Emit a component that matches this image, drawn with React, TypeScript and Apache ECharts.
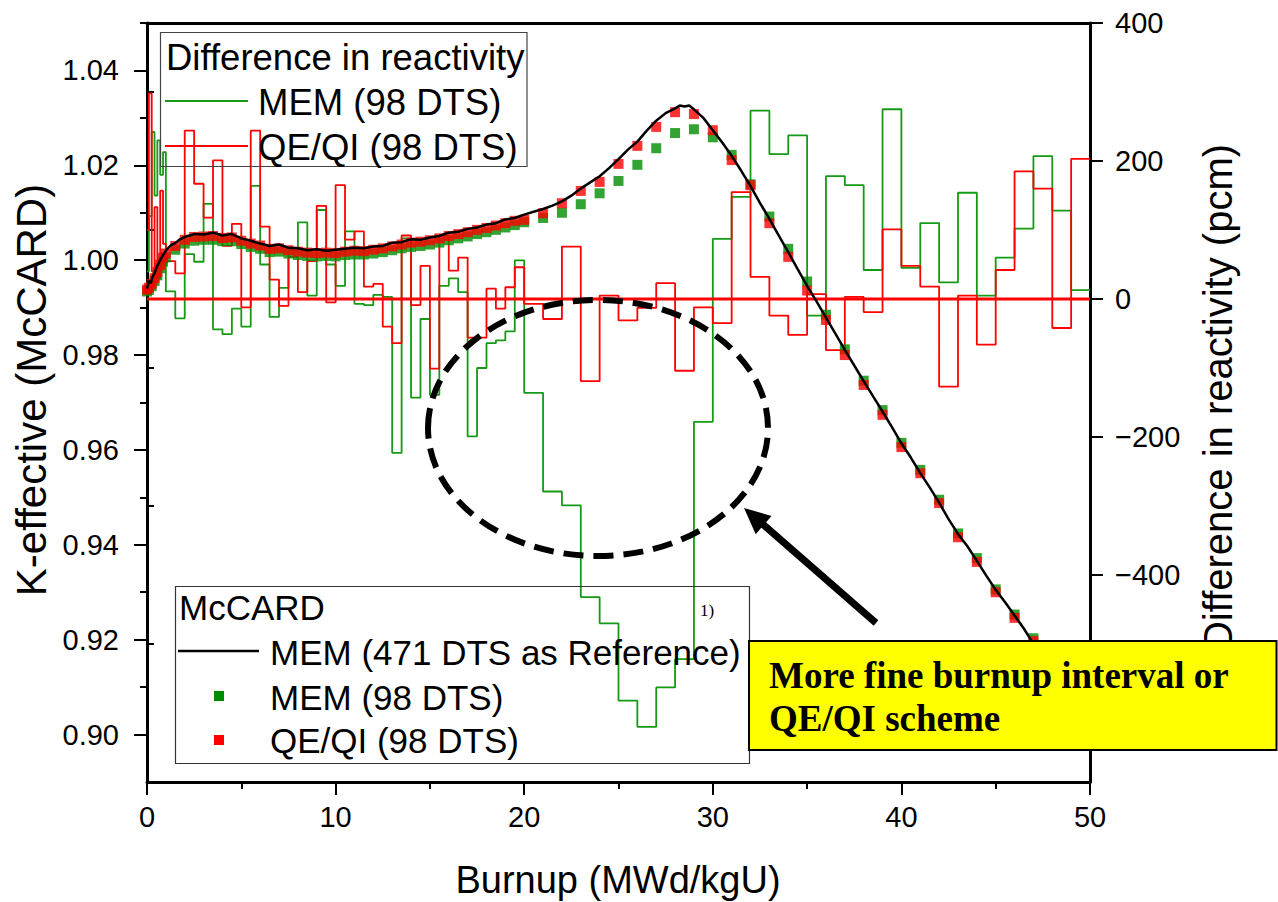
import React, { useEffect, useRef } from 'react';
import * as echarts from 'echarts';

const FONT = '"Liberation Sans", Arial, Helvetica, sans-serif';
const SERIF = '"Liberation Serif", "Times New Roman", serif';

const BURNUP_MIN = 0;
const BURNUP_MAX = 50;

// Left edges of the 98-DTS burnup steps (MWd/kgU)
const stepEdges = [
  0, 0.1, 0.25, 0.4, 0.55, 0.7, 0.85, 1.0,
  1.5, 2.0, 2.5, 3.0, 3.5, 4.0, 4.5, 5.0, 5.5, 6.0, 6.5, 7.0, 7.5, 8.0, 8.5, 9.0, 9.5,
  10.0, 10.5, 11.0, 11.5, 12.0, 12.5, 13.0, 13.5, 14.0, 14.5, 15.0, 15.5, 16.0, 16.5,
  17.0, 17.5, 18.0, 18.5, 19.0, 19.5,
  20, 21, 22, 23, 24, 25, 26, 27, 28, 29, 30, 31, 32, 33, 34, 35, 36, 37, 38, 39,
  40, 41, 42, 43, 44, 45, 46, 47, 48, 49,
];

// Difference in reactivity (pcm) - MEM (98 DTS)
const memDiff = [
  40, 120, 242, 150, 230, 180, 213, 11,
  -28, 65, 54, 138, -44, -51, -14, -40, 164, 50, -26, 16, 70, 111, 5, 129, 50,
  19, 98, -7, -9, 6, 3, -223, 88, -143, -29, -139, 19, 30, 10,
  -199, -100, -64, -60, -47, 56,
  -136, -279, -299, -432, -470, -582, -620, -563, -522, -178, 87, 148, 273, 210, 237, -24, 178, 165, 42, 275,
  45, 110, 24, 154, 5, 60, 102, 207, 128, 13,
];

// Difference in reactivity (pcm) - QE/QI (98 DTS)
const qeDiff = [
  100, 298, 40, 133, 30, 157, 80, 55,
  37, 244, 167, 118, 201, 77, 109, -12, 244, 105, 28, -10, 61, 10, 55, 135, -5,
  165, 86, 98, 18, 22, -40, -64, 92, -9, 48, -101, 92, 41, 60,
  -56, -56, 15, -14, 17, 46,
  -7, -29, 76, -119, 5, -31, -13, 23, -104, -12, -35, 155, 32, -24, -52, 7, -74, 3, -19, 101,
  48, 18, -127, 5, -66, 42, 185, 160, -42, 203,
];

// Burnup points of the 98-DTS k-effective results
const pointBurnup = [
  0, 0.1, 0.25, 0.4, 0.55, 0.7, 0.85, 1.0,
  1.5, 2.0, 2.5, 3.0, 3.5, 4.0, 4.5, 5.0, 5.5, 6.0, 6.5, 7.0, 7.5, 8.0, 8.5, 9.0, 9.5,
  10.0, 10.5, 11.0, 11.5, 12.0, 12.5, 13.0, 13.5, 14.0, 14.5, 15.0, 15.5, 16.0, 16.5,
  17.0, 17.5, 18.0, 18.5, 19.0, 19.5,
  20, 21, 22, 23, 24, 25, 26, 27, 28, 29, 30, 31, 32, 33, 34, 35, 36, 37, 38, 39,
  40, 41, 42, 43, 44, 45, 46, 47, 48, 49, 50,
];

const memKeff = [
  0.9934, 0.9937, 0.9945, 0.9956, 0.9968, 0.9983, 0.9997, 1.0006,
  1.0022, 1.0035, 1.0041, 1.0043, 1.0043, 1.0040, 1.0040, 1.0034, 1.0028, 1.0024, 1.0017, 1.0018, 1.0014, 1.0011, 1.0009, 1.0008, 1.0009,
  1.0008, 1.0011, 1.0012, 1.0012, 1.0014, 1.0017, 1.0021, 1.0025, 1.0028, 1.0030, 1.0033, 1.0037, 1.0042, 1.0046,
  1.0050, 1.0055, 1.0059, 1.0064, 1.0069, 1.0074,
  1.0080, 1.0089, 1.0100, 1.0118, 1.0141, 1.0167, 1.0201, 1.0236, 1.0268, 1.0276, 1.0259, 1.0222, 1.0160, 1.0092, 1.0024, 0.9955, 0.9885, 0.9812, 0.9746, 0.9684,
  0.9615, 0.9558, 0.9495, 0.9424, 0.9372, 0.9306, 0.9253, 0.9203, 0.9147, 0.9088, 0.9027,
];

const qeKeff = [
  0.9938, 0.9942, 0.9950, 0.9962, 0.9975, 0.9990, 1.0005, 1.0014,
  1.0030, 1.0043, 1.0049, 1.0050, 1.0051, 1.0047, 1.0048, 1.0041, 1.0035, 1.0031, 1.0024, 1.0025, 1.0021, 1.0018, 1.0016, 1.0015, 1.0016,
  1.0015, 1.0018, 1.0020, 1.0019, 1.0022, 1.0025, 1.0029, 1.0033, 1.0037, 1.0039, 1.0042, 1.0046, 1.0051, 1.0055,
  1.0059, 1.0064, 1.0068, 1.0073, 1.0078, 1.0083,
  1.0085, 1.0099, 1.0120, 1.0146, 1.0165, 1.0203, 1.0241, 1.0281, 1.0312, 1.0308, 1.0274, 1.0211, 1.0158, 1.0078, 1.0007, 0.9936, 0.9874, 0.9800, 0.9737, 0.9674,
  0.9606, 0.9551, 0.9488, 0.9416, 0.9364, 0.9300, 0.9246, 0.9197, 0.9140, 0.9080, 0.9020,
];

// Reference: MEM (471 DTS)
const refBurnup = [
  0, 0.1, 0.2, 0.3, 0.4, 0.5, 0.75, 1.0, 1.25, 1.5, 1.75, 2.0, 2.5, 3.0, 3.5, 4.0, 4.5, 5.0, 5.5, 6.0,
  6.5, 7.0, 7.5, 8.0, 8.5, 9.0, 9.5, 10.0, 10.5, 11.0, 11.5, 12.0, 12.5, 13.0, 13.5, 14.0, 14.5, 15.0,
  15.5, 16.0, 16.5, 17.0, 17.5, 18.0, 18.5, 19.0, 19.5, 20.0, 20.5, 21.0, 21.5, 22.0, 22.5, 23.0, 23.5,
  24.0, 24.5, 25.0, 25.5, 26.0, 26.5, 27.0, 27.5, 28.0, 28.25, 28.5, 28.75, 29.0, 29.5, 30.0, 30.5, 31.0,
  31.5, 32.0, 32.5, 33.0, 33.5, 34.0, 34.5, 35.0, 35.5, 36.0, 36.5, 37.0, 37.5, 38.0, 38.5, 39.0, 39.5,
  40.0, 40.5, 41.0, 41.5, 42.0, 42.5, 43.0, 43.5, 44.0, 44.5, 45.0, 45.5, 46.0, 46.5, 47.0, 47.5, 48.0,
  48.5, 49.0, 49.5, 50.0,
];
const refKeff = [
  0.9940, 0.9957, 0.9951, 0.9966, 0.9972, 0.9984, 1.0004, 1.0020, 1.0031, 1.0036, 1.0044, 1.0049, 1.0055, 1.0054, 1.0058, 1.0052, 1.0055, 1.0046, 1.0041, 1.0035,
  1.0030, 1.0033, 1.0026, 1.0025, 1.0021, 1.0023, 1.0020, 1.0022, 1.0024, 1.0026, 1.0025, 1.0029, 1.0030, 1.0037, 1.0038, 1.0044, 1.0043, 1.0048,
  1.0051, 1.0058, 1.0060, 1.0066, 1.0069, 1.0075, 1.0078, 1.0086, 1.0089, 1.0096, 1.0102, 1.0108, 1.0115, 1.0124, 1.0136, 1.0151, 1.0164,
  1.0177, 1.0194, 1.0213, 1.0233, 1.0250, 1.0273, 1.0294, 1.0310, 1.0320, 1.0326, 1.0324, 1.0326, 1.0318, 1.0300, 1.0274, 1.0248, 1.0220,
  1.0189, 1.0156, 1.0121, 1.0087, 1.0052, 1.0017, 0.9981, 0.9946, 0.9913, 0.9879, 0.9845, 0.9811, 0.9778, 0.9745, 0.9713, 0.9681, 0.9648,
  0.9614, 0.9584, 0.9551, 0.9521, 0.9489, 0.9454, 0.9423, 0.9397, 0.9366, 0.9335, 0.9305, 0.9279, 0.9251, 0.9223, 0.9191, 0.9163, 0.9134,
  0.9106, 0.9077, 0.9049, 0.9020,
];

const leftMajorTicks = [0.9, 0.92, 0.94, 0.96, 0.98, 1.0, 1.02, 1.04];
const leftMinorTicks = [0.91, 0.93, 0.95, 0.97, 0.99, 1.01, 1.03, 1.05];
const rightMajorTicks = [-600, -400, -200, 0, 200, 400];
const rightMinorTicks = [-700, -500, -300, -100, 100, 300];

const GREEN_LINE = '#159a15';
const GREEN_PT = '#008c00';
const RED = '#ff0000';

function stepSeriesData(edges: number[], vals: number[]) {
  const d = edges.map((x, i) => [x, vals[i]]);
  d.push([BURNUP_MAX, vals[vals.length - 1]]);
  return d;
}

function arrowHead(tipX: number, tipY: number, tailX: number, tailY: number, len: number, half: number) {
  const dx = tailX - tipX;
  const dy = tailY - tipY;
  const L = Math.sqrt(dx * dx + dy * dy);
  const ux = dx / L;
  const uy = dy / L;
  const bx = tipX + ux * len;
  const by = tipY + uy * len;
  return [
    [tipX, tipY],
    [bx - uy * half, by + ux * half],
    [bx + uy * half, by - ux * half],
  ];
}

function buildOption() {
  const axisLineStyle = { color: '#000', width: 3 };
  const tickStyle = { color: '#000', width: 2 };
  const labelBase = { color: '#000', fontSize: 29, fontFamily: FONT };
  const txt = (text: string, x: number, y: number, size: number, extra: any = {}) => ({
    type: 'text',
    x,
    y,
    z: 100,
    style: { text, fontSize: size, fontFamily: FONT, fill: '#000', align: 'left', verticalAlign: 'middle', ...extra },
  });

  const tipX = 744;
  const tipY = 508;
  const tailX = 876;
  const tailY = 623;

  return {
    animation: false,
    backgroundColor: '#fff',
    grid: { left: 147, right: 188, top: 23, bottom: 120, containLabel: false },
    xAxis: [
      {
        type: 'value',
        min: BURNUP_MIN,
        max: BURNUP_MAX,
        interval: 10,
        position: 'bottom',
        axisLine: { show: true, onZero: false, lineStyle: axisLineStyle },
        axisTick: { show: true, length: 13, lineStyle: tickStyle },
        minorTick: { show: true, splitNumber: 2, length: 7, lineStyle: tickStyle },
        axisLabel: { ...labelBase, margin: 20 },
        splitLine: { show: false },
      },
      {
        type: 'value',
        min: BURNUP_MIN,
        max: BURNUP_MAX,
        position: 'top',
        axisLine: { show: true, onZero: false, lineStyle: axisLineStyle },
        axisTick: { show: false },
        axisLabel: { show: false },
        splitLine: { show: false },
      },
    ],
    yAxis: [
      {
        type: 'value',
        min: 0.89,
        max: 1.05,
        position: 'left',
        axisLine: { show: true, onZero: false, lineStyle: axisLineStyle },
        axisTick: { show: true, length: 13, lineStyle: tickStyle, customValues: leftMajorTicks },
        axisLabel: { ...labelBase, margin: 28, customValues: leftMajorTicks, formatter: (v: number) => v.toFixed(2) },
        splitLine: { show: false },
      },
      {
        type: 'value',
        min: -700,
        max: 400,
        position: 'right',
        axisLine: { show: true, onZero: false, lineStyle: axisLineStyle },
        axisTick: { show: true, length: 13, lineStyle: tickStyle, customValues: rightMajorTicks },
        axisLabel: {
          ...labelBase,
          margin: 25,
          customValues: rightMajorTicks,
          formatter: (v: number) => (v < 0 ? '\u2212' + Math.abs(v) : String(v)),
        },
        splitLine: { show: false },
      },
      {
        type: 'value',
        min: 0.89,
        max: 1.05,
        position: 'left',
        axisLine: { show: false },
        axisTick: { show: true, length: 7, lineStyle: tickStyle, customValues: leftMinorTicks },
        axisLabel: { show: false },
        splitLine: { show: false },
      },
      {
        type: 'value',
        min: -700,
        max: 400,
        position: 'right',
        axisLine: { show: false },
        axisTick: { show: true, length: 7, lineStyle: tickStyle, customValues: rightMinorTicks },
        axisLabel: { show: false },
        splitLine: { show: false },
      },
    ],
    series: [
      {
        name: 'MEM (98 DTS) difference',
        type: 'line',
        yAxisIndex: 1,
        step: 'end',
        showSymbol: false,
        data: stepSeriesData(stepEdges, memDiff),
        lineStyle: { color: GREEN_LINE, width: 1.8 },
        z: 2,
      },
      {
        name: 'QE/QI (98 DTS) difference',
        type: 'line',
        yAxisIndex: 1,
        step: 'end',
        showSymbol: false,
        data: stepSeriesData(stepEdges, qeDiff),
        lineStyle: { color: RED, width: 1.8 },
        z: 3,
      },
      {
        name: 'zero',
        type: 'line',
        yAxisIndex: 1,
        showSymbol: false,
        data: [
          [BURNUP_MIN, 0],
          [BURNUP_MAX, 0],
        ],
        lineStyle: { color: RED, width: 3 },
        z: 4,
      },
      {
        name: 'MEM (98 DTS)',
        type: 'scatter',
        yAxisIndex: 0,
        symbol: 'rect',
        symbolSize: 10,
        data: pointBurnup.map((x, i) => [x, memKeff[i]]),
        itemStyle: { color: GREEN_PT },
        z: 5,
      },
      {
        name: 'QE/QI (98 DTS)',
        type: 'scatter',
        yAxisIndex: 0,
        symbol: 'rect',
        symbolSize: 10,
        data: pointBurnup.map((x, i) => [x, qeKeff[i]]),
        itemStyle: { color: RED },
        z: 6,
      },
      {
        name: 'MEM (471 DTS as Reference)',
        type: 'line',
        yAxisIndex: 0,
        showSymbol: false,
        data: refBurnup.map((x, i) => [x, refKeff[i]]),
        lineStyle: { color: '#000', width: 2.5 },
        z: 7,
      },
    ],
    graphic: [
      // axis titles
      {
        type: 'text',
        x: 31,
        y: 390,
        rotation: Math.PI / 2,
        z: 100,
        style: { text: 'K-effective (McCARD)', fontSize: 42, fontFamily: FONT, fill: '#000', align: 'center', verticalAlign: 'middle' },
      },
      {
        type: 'text',
        x: 1218,
        y: 397,
        rotation: Math.PI / 2,
        z: 100,
        style: { text: 'Difference in reactivity (pcm)', fontSize: 40, fontFamily: FONT, fill: '#000', align: 'center', verticalAlign: 'middle' },
      },
      txt('Burnup (MWd/kgU)', 618, 880, 38, { align: 'center' }),
      // top legend
      { type: 'rect', z: 100, shape: { x: 160.5, y: 32.5, width: 366.5, height: 134 }, style: { fill: 'none', stroke: '#444', lineWidth: 1.2 } },
      txt('Difference in reactivity', 166, 57, 36.5),
      { type: 'line', z: 100, shape: { x1: 165, y1: 101, x2: 248, y2: 101 }, style: { stroke: GREEN_LINE, lineWidth: 1.8 } },
      txt('MEM (98 DTS)', 258, 102, 36.5),
      { type: 'line', z: 100, shape: { x1: 165, y1: 146, x2: 248, y2: 146 }, style: { stroke: RED, lineWidth: 1.8 } },
      txt('QE/QI (98 DTS)', 258, 147, 36.5),
      // bottom legend
      { type: 'rect', z: 100, shape: { x: 175.5, y: 586.5, width: 574, height: 177 }, style: { fill: 'none', stroke: '#333', lineWidth: 1.2 } },
      txt('McCARD', 179, 607, 35),
      { type: 'line', z: 100, shape: { x1: 178, y1: 651, x2: 259, y2: 651 }, style: { stroke: '#000', lineWidth: 2.5 } },
      txt('MEM (471 DTS as Reference)', 270, 652, 35),
      { type: 'rect', z: 100, shape: { x: 214, y: 691, width: 10, height: 10 }, style: { fill: GREEN_PT } },
      txt('MEM (98 DTS)', 270, 697, 35),
      { type: 'rect', z: 100, shape: { x: 214, y: 735, width: 10, height: 10 }, style: { fill: RED } },
      txt('QE/QI (98 DTS)', 270, 740, 35),
      {
        type: 'text',
        x: 700,
        y: 610,
        z: 100,
        style: { text: '1)', fontSize: 17, fontFamily: SERIF, fill: '#000', align: 'left', verticalAlign: 'middle' },
      },
      // dashed ellipse
      {
        type: 'ellipse',
        z: 100,
        shape: { cx: 598, cy: 428, rx: 170, ry: 128 },
        style: { fill: 'none', stroke: '#000', lineWidth: 6, lineDash: [20, 10] },
      },
      // arrow
      {
        type: 'line',
        z: 100,
        shape: { x1: tailX, y1: tailY, x2: tipX + 14, y2: tipY + 12 },
        style: { stroke: '#000', lineWidth: 7 },
      },
      {
        type: 'polygon',
        z: 100,
        shape: { points: arrowHead(tipX, tipY, tailX, tailY, 26, 12) },
        style: { fill: '#000' },
      },
      // yellow annotation box
      {
        type: 'rect',
        z: 110,
        shape: { x: 749, y: 641, width: 527.5, height: 109 },
        style: { fill: '#ffff00', stroke: '#000', lineWidth: 2 },
      },
      {
        type: 'text',
        x: 769,
        y: 675,
        z: 111,
        style: { text: 'More fine burnup interval or', fontSize: 37, fontWeight: 'bold', fontFamily: SERIF, fill: '#000', align: 'left', verticalAlign: 'middle' },
      },
      {
        type: 'text',
        x: 769,
        y: 718,
        z: 111,
        style: { text: 'QE/QI scheme', fontSize: 37, fontWeight: 'bold', fontFamily: SERIF, fill: '#000', align: 'left', verticalAlign: 'middle' },
      },
    ],
  };
}

export default function App() {
  const ref = useRef<HTMLDivElement>(null);
  useEffect(() => {
    if (!ref.current) return;
    const chart = echarts.init(ref.current, null, { renderer: 'svg' });
    chart.setOption(buildOption() as any);
    return () => chart.dispose();
  }, []);
  return (
    <div
      ref={ref}
      style={{ position: 'absolute', left: 0, top: 0, width: 1278, height: 902, background: '#fff' }}
    />
  );
}
